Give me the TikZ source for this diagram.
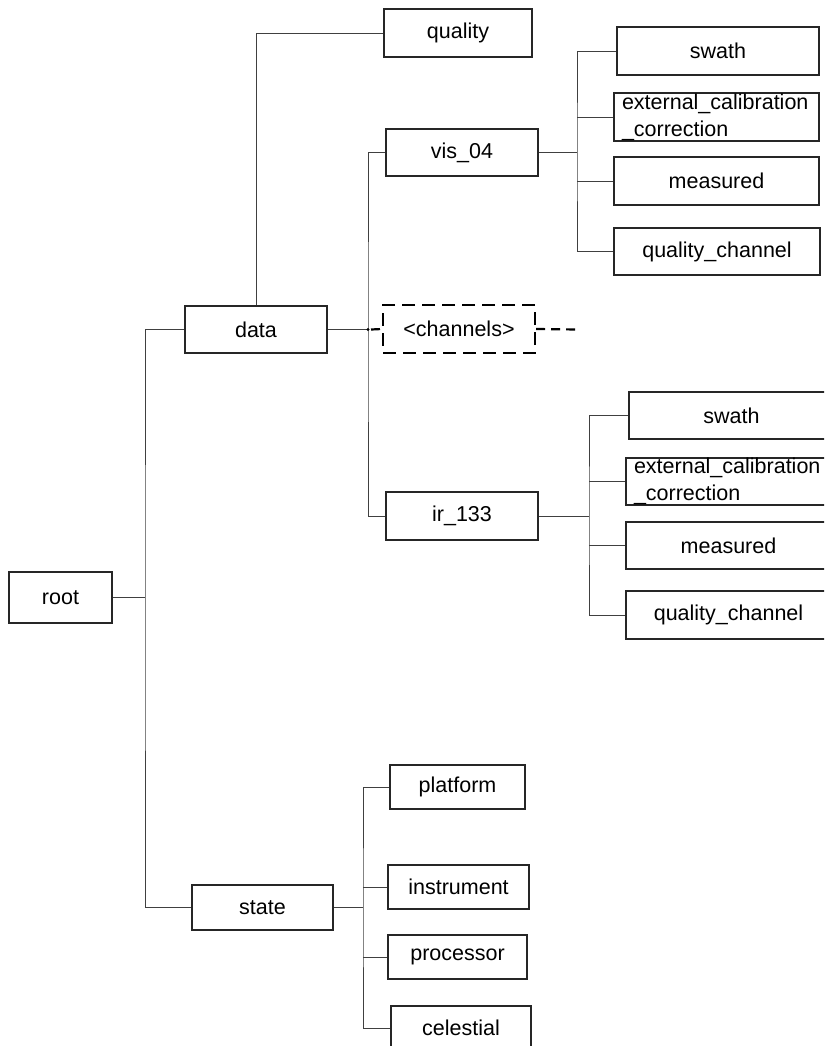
\documentclass[tikz,border=0pt]{standalone}
\usepackage{fontspec}
\setmainfont{Liberation Sans}
\begin{document}
\begin{tikzpicture}[x=1pt,y=-1pt,
  box/.style={draw=black!85, line width=1.1pt, inner sep=0pt, font=\fontsize{21.5}{27}\selectfont},
  twoline/.style={box, align=left, inner xsep=8pt, text width=#1, anchor=center},
  dbox/.style={draw=black, line width=2.2pt, dash pattern=on 13pt off 7pt, inner sep=0pt, font=\fontsize{21.5}{27}\selectfont},
  conn/.style={draw=black!75, line width=0.9pt},
  dconn/.style={draw=black, line width=2.2pt, dash pattern=on 9pt off 6pt}]
\useasboundingbox (0,0) rectangle (824,1046);
\clip (0,0) rectangle (824,1046);
% nodes
\node[box, minimum width=103pt, minimum height=51pt] (root) at (60.5,597.5) {root};
\node[box, minimum width=142pt, minimum height=47pt] (data) at (256,329.5) {data};
\node[box, minimum width=148pt, minimum height=48pt] (quality) at (458,33) {quality};
\node[box, minimum width=152pt, minimum height=47pt] (vis) at (462,152.5) {vis\_04};
\node[dbox, minimum width=152pt, minimum height=48pt] (channels) at (459,329) {<channels>};
\node[box, minimum width=152pt, minimum height=48pt] (ir) at (462,516) {ir\_133};
\node[box, minimum width=202pt, minimum height=48pt] (swath1) at (718,51) {swath};
\node[twoline=189pt, minimum width=205pt, minimum height=48pt] (ext1) at (716.5,117) {external\_calibration\\\_correction};
\node[box, minimum width=205pt, minimum height=48pt] (meas1) at (716.5,181) {measured};
\node[box, minimum width=206pt, minimum height=47pt] (qc1) at (717,251.5) {quality\_channel};
\node[box, minimum width=205pt, minimum height=47pt] (swath2) at (731.5,415.5) {swath};
\node[twoline=189pt, minimum width=205pt, minimum height=47pt] (ext2) at (728.5,481.5) {external\_calibration\\\_correction};
\node[box, minimum width=205pt, minimum height=47pt] (meas2) at (728.5,545.5) {measured};
\node[box, minimum width=205pt, minimum height=48pt] (qc2) at (728.5,615) {quality\_channel};
\node[box, minimum width=141pt, minimum height=45pt] (state) at (262.5,907.5) {state};
\node[box, minimum width=135pt, minimum height=44pt] (platform) at (457.5,787) {platform};
\node[box, minimum width=141pt, minimum height=44pt] (instrument) at (458.5,887) {instrument};
\node[box, minimum width=139pt, minimum height=44pt] (processor) at (457.5,957) {processor};
\node[box, minimum width=140pt, minimum height=44pt] (celestial) at (461,1028) {celestial};
% junctions
\coordinate (trunk) at (145,597.5);
\coordinate (dj) at (368,329.5);
\coordinate (vj) at (577,152.5);
\coordinate (ij) at (589,516);
\coordinate (sj) at (363,907.5);
\coordinate (chend) at (578,329.5);
% connectors
\draw[conn] (root.east) -- (trunk);
\draw[conn] (data.west) -| (trunk) |- (state.west);
\draw[conn] (data.north) |- (quality.west);
\draw[conn] (data.east) -- (dj);
\draw[conn] (vis.west) -| (dj) |- (ir.west);
\fill (dj) circle (1.6);
\draw[dconn] (dj) ++(3,0) -- (channels.west);
\draw[dconn] (channels.east) -- (chend);
\draw[conn] (vis.east) -- (vj);
\draw[conn] (swath1.west) -| (vj) |- (qc1.west);
\draw[conn] (vj |- ext1.west) -- (ext1.west);
\draw[conn] (vj |- meas1.west) -- (meas1.west);
\draw[conn] (ir.east) -- (ij);
\draw[conn] (swath2.west) -| (ij) |- (qc2.west);
\draw[conn] (ij |- ext2.west) -- (ext2.west);
\draw[conn] (ij |- meas2.west) -- (meas2.west);
\draw[conn] (state.east) -- (sj);
\draw[conn] (platform.west) -| (sj) |- (celestial.west);
\draw[conn] (sj |- instrument.west) -- (instrument.west);
\draw[conn] (sj |- processor.west) -- (processor.west);
\end{tikzpicture}
\end{document}
